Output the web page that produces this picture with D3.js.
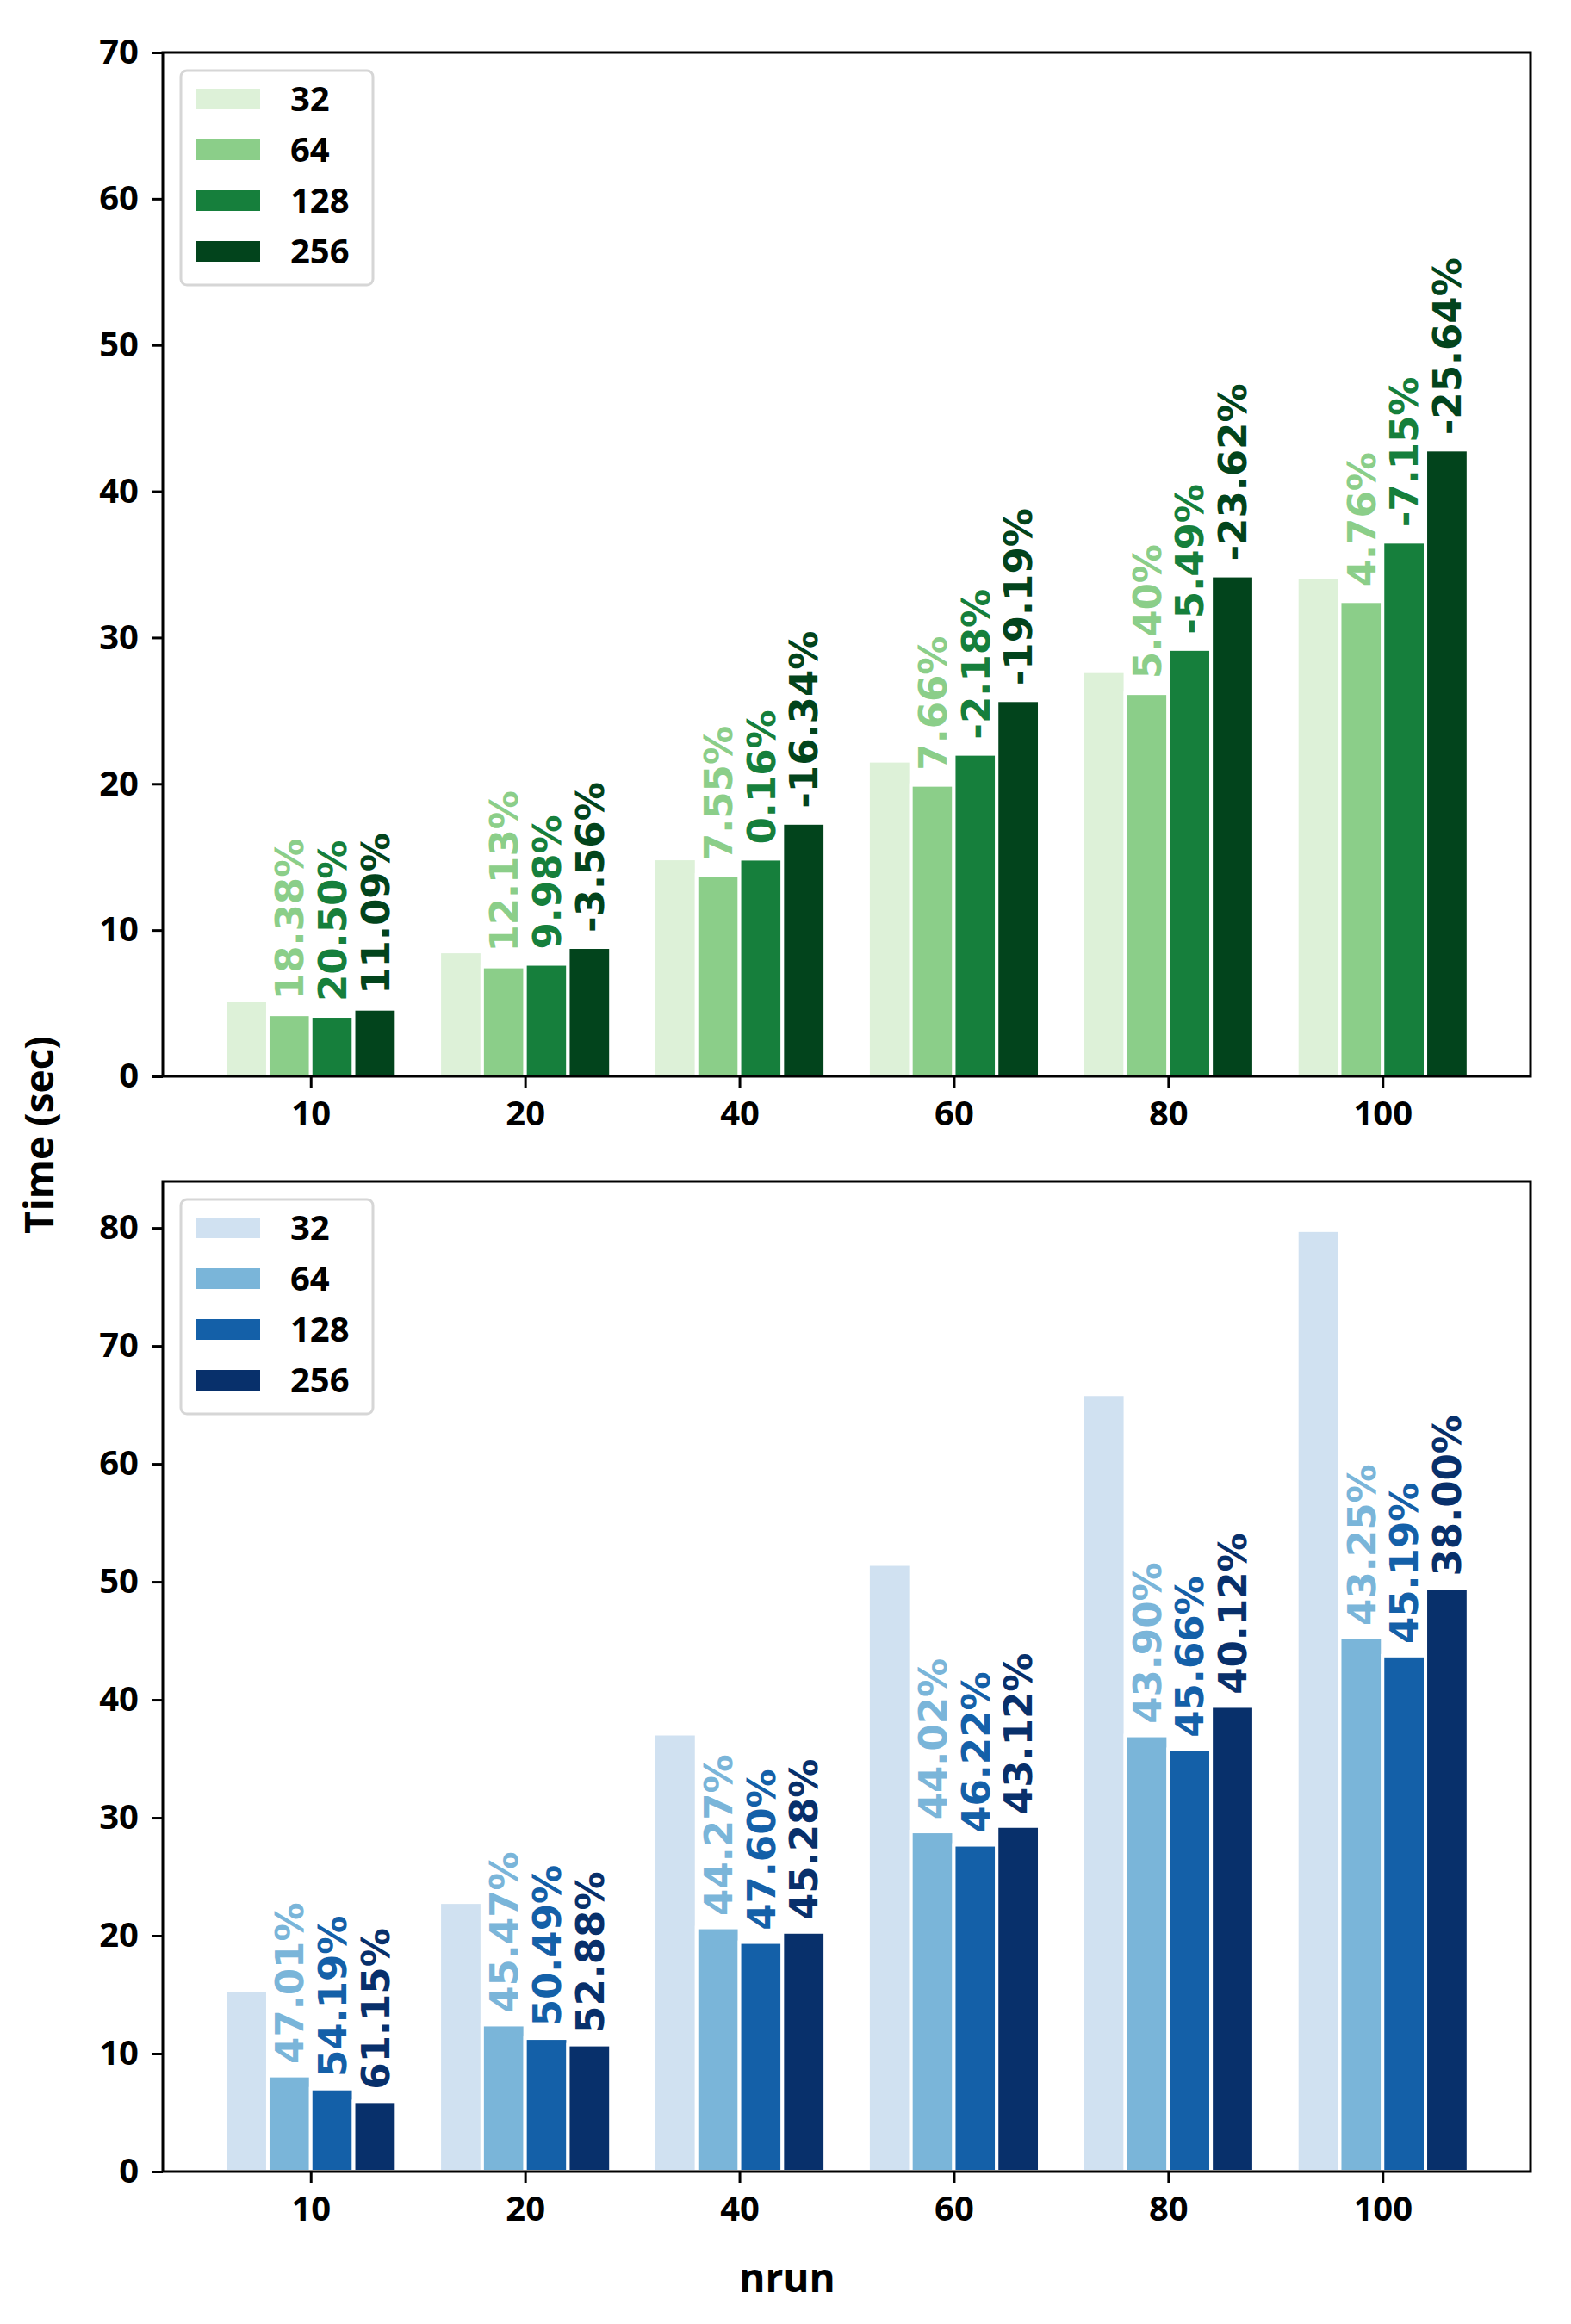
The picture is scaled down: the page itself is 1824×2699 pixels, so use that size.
<!DOCTYPE html>
<html>
<head>
<meta charset="utf-8">
<script src="https://cdn.jsdelivr.net/npm/d3@7"></script>
<style>
  html, body { margin: 0; padding: 0; background: #ffffff; }
  svg { display: block; }
</style>
</head>
<body>
<svg id="chart" width="1824" height="2699"></svg>
<script>
// ---------------- data ----------------
const categories = ["10", "20", "40", "60", "80", "100"];
const seriesNames = ["32", "64", "128", "256"];

// top panel (green)
const topTime32  = [5.18, 8.53, 14.89, 21.57, 27.69, 34.10];
const topTime64  = [4.23, 7.50, 13.77, 19.92, 26.19, 32.48];
const topTime128 = [4.12, 7.68, 14.87, 22.04, 29.21, 36.54];
const topTime256 = [4.61, 8.83, 17.32, 25.71, 34.23, 42.84];
const topPct64  = ["18.38%", "12.13%", "7.55%", "7.66%", "5.40%", "4.76%"];
const topPct128 = ["20.50%", "9.98%", "0.16%", "-2.18%", "-5.49%", "-7.15%"];
const topPct256 = ["11.09%", "-3.56%", "-16.34%", "-19.19%", "-23.62%", "-25.64%"];
const topTicks = [0, 10, 20, 30, 40, 50, 60, 70];

// bottom panel (blue)
const botTime32  = [15.35, 22.84, 37.12, 51.50, 65.90, 79.80];
const botTime64  = [8.13, 12.45, 20.69, 28.83, 36.97, 45.29];
const botTime128 = [7.03, 11.31, 19.45, 27.70, 35.81, 43.74];
const botTime256 = [5.96, 10.76, 20.31, 29.29, 39.46, 49.48];
const botPct64  = ["47.01%", "45.47%", "44.27%", "44.02%", "43.90%", "43.25%"];
const botPct128 = ["54.19%", "50.49%", "47.60%", "46.22%", "45.66%", "45.19%"];
const botPct256 = ["61.15%", "52.88%", "45.28%", "43.12%", "40.12%", "38.00%"];
const botTicks = [0, 10, 20, 30, 40, 50, 60, 70, 80];

const greenColors = ["#ddf1d8", "#8bce89", "#167f3c", "#02441c"];
const blueColors  = ["#d0e1f1", "#7ab5d9", "#1460a8", "#08306b"];

// ---------------- layout ----------------
const svg = d3.select("#chart");
svg.append("rect").attr("width", 1824).attr("height", 2699).attr("fill", "#fff");

const plotLeft = 189, plotRight = 1777;
const tickFont = "'Open Sans', 'Noto Sans', sans-serif";
const labelFont = "'DejaVu Sans', sans-serif";

const x = d3.scaleLinear().domain([-0.69, 5.69]).range([plotLeft, plotRight]);
const barW = 0.2;

function drawPanel(cfg) {
  const y = d3.scaleLinear().domain([0, cfg.yMax]).range([cfg.bottom, cfg.top]);
  const g = svg.append("g");

  // bars
  cfg.series.forEach((vals, j) => {
    g.selectAll(null)
      .data(vals)
      .enter()
      .append("rect")
      .attr("x", (d, i) => x(i - 0.4 + j * barW))
      .attr("width", x(barW) - x(0))
      .attr("y", d => y(d))
      .attr("height", d => y(0) - y(d))
      .attr("fill", cfg.colors[j])
      .attr("stroke", "#ffffff")
      .attr("stroke-width", 4);
  });

  // percentage labels (series 1..3)
  cfg.labels.forEach((labs, k) => {
    const j = k + 1;
    const vals = cfg.series[j];
    g.selectAll(null)
      .data(labs)
      .enter()
      .append("text")
      .attr("transform", (d, i) => {
        const cx = x(i - 0.4 + j * barW + barW / 2);
        const cy = y(vals[i] + 1);
        return `translate(${cx},${cy}) rotate(-90)`;
      })
      .attr("dy", "0.36em")
      .attr("text-anchor", "start")
      .attr("font-family", labelFont)
      .attr("font-weight", "bold")
      .attr("font-size", 45)
      .attr("fill", cfg.colors[j])
      .text(d => d);
  });

  // y axis
  const yAxis = d3.axisLeft(y).tickValues(cfg.ticks).tickSize(13).tickPadding(15).tickFormat(d3.format("d"));
  const ya = g.append("g").attr("transform", `translate(${plotLeft},0)`).call(yAxis);
  ya.select(".domain").remove();
  ya.selectAll(".tick line").attr("stroke", "#000").attr("stroke-width", 3);
  ya.selectAll(".tick text")
    .attr("font-family", tickFont).attr("font-weight", "bold")
    .attr("font-size", 40).attr("fill", "#000");

  // x axis
  const xAxis = d3.axisBottom(x).tickValues(d3.range(categories.length)).tickSize(13).tickPadding(16)
    .tickFormat(i => categories[i]);
  const xa = g.append("g").attr("transform", `translate(0,${cfg.bottom})`).call(xAxis);
  xa.select(".domain").remove();
  xa.selectAll(".tick line").attr("stroke", "#000").attr("stroke-width", 3);
  xa.selectAll(".tick text")
    .attr("font-family", tickFont).attr("font-weight", "bold")
    .attr("font-size", 40).attr("fill", "#000");

  // frame
  g.append("rect")
    .attr("x", plotLeft).attr("y", cfg.top)
    .attr("width", plotRight - plotLeft).attr("height", cfg.bottom - cfg.top)
    .attr("fill", "none").attr("stroke", "#000").attr("stroke-width", 3);

  // legend
  const lg = g.append("g").attr("transform", `translate(${plotLeft},${cfg.top})`);
  lg.append("rect")
    .attr("x", 21).attr("y", 21).attr("width", 223).attr("height", 249)
    .attr("rx", 7).attr("ry", 7)
    .attr("fill", "#fff").attr("stroke", "#d6d6d6").attr("stroke-width", 3);
  seriesNames.forEach((name, j) => {
    const cy = 54 + j * 59;
    lg.append("rect")
      .attr("x", 39).attr("y", cy - 12).attr("width", 74).attr("height", 24)
      .attr("fill", cfg.colors[j]);
    lg.append("text")
      .attr("x", 148).attr("y", cy).attr("dy", "0.36em")
      .attr("font-family", tickFont).attr("font-weight", "bold")
      .attr("font-size", 40).attr("fill", "#000")
      .text(name);
  });
}

drawPanel({
  top: 61, bottom: 1250, yMax: 70, ticks: topTicks,
  series: [topTime32, topTime64, topTime128, topTime256],
  labels: [topPct64, topPct128, topPct256],
  colors: greenColors
});

drawPanel({
  top: 1372, bottom: 2522, yMax: 83.95, ticks: botTicks,
  series: [botTime32, botTime64, botTime128, botTime256],
  labels: [botPct64, botPct128, botPct256],
  colors: blueColors
});

// axis titles
svg.append("text")
  .attr("transform", "translate(62,1318) rotate(-90)")
  .attr("text-anchor", "middle")
  .attr("font-family", tickFont).attr("font-weight", "bold")
  .attr("font-size", 46).attr("fill", "#000")
  .text("Time (sec)");

svg.append("text")
  .attr("x", 914).attr("y", 2662)
  .attr("text-anchor", "middle")
  .attr("font-family", tickFont).attr("font-weight", "bold")
  .attr("font-size", 46).attr("fill", "#000")
  .text("nrun");
</script>
</body>
</html>
